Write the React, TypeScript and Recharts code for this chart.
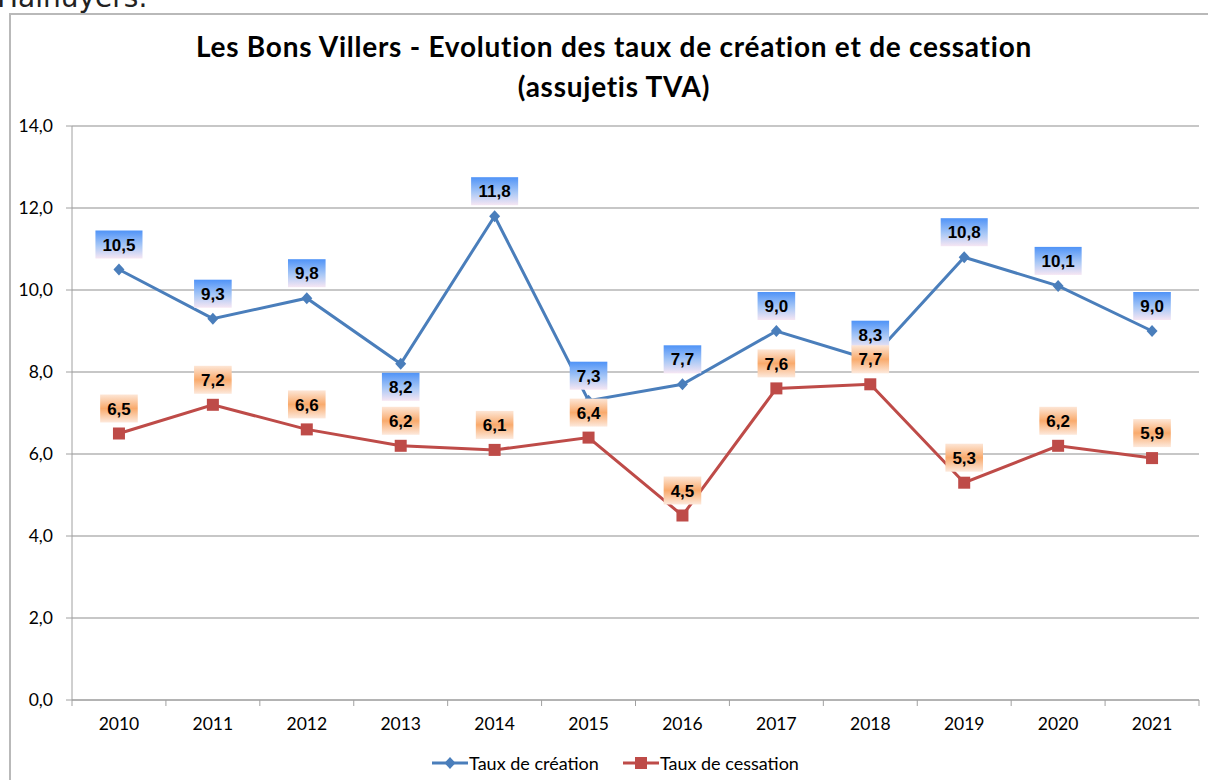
import React from 'react';
import { LineChart, Line, XAxis, YAxis, CartesianGrid, LabelList, Legend } from 'recharts';

const years = ['2010', '2011', '2012', '2013', '2014', '2015', '2016', '2017', '2018', '2019', '2020', '2021'];
const tauxCreation = [10.5, 9.3, 9.8, 8.2, 11.8, 7.3, 7.7, 9.0, 8.3, 10.8, 10.1, 9.0];
const tauxCessation = [6.5, 7.2, 6.6, 6.2, 6.1, 6.4, 4.5, 7.6, 7.7, 5.3, 6.2, 5.9];
const yTicks = [0, 2, 4, 6, 8, 10, 12, 14];
// labels that Excel put under the point instead of above
const creationLabelsBelow = ['2013'];

const data = years.map((year, i) => ({
  year,
  creation: tauxCreation[i],
  cessation: tauxCessation[i],
}));

const BLUE = '#4a7ebb';
const RED = '#be4b48';
const AXIS = '#a0a0a0';
const FONT = 'Lato, "Open Sans", sans-serif';
const W = 1208;
const H = 780;
const MARGIN = { top: 126, right: 9, left: 0, bottom: 20 };
const Y_AXIS_W = 72;
const PLOT_W = W - MARGIN.left - MARGIN.right - Y_AXIS_W;
const BAND = PLOT_W / years.length;

const fmt = (v: number) => v.toFixed(1).replace('.', ',');

const textWidth = (s: string) =>
  s.split('').reduce((acc, c) => acc + (c === ',' ? 4.7 : 9.45), 0);

const makeLabel = (gradId: string, isBelow: (i: number) => boolean) => (props: any) => {
  const { x, y, value, index } = props;
  const text = fmt(Number(value));
  const w = textWidth(text) + 14;
  const h = 28;
  const cy = isBelow(index) ? y + 23 : y - 25;
  return (
    <g>
      <rect x={x - w / 2} y={cy - h / 2} width={w} height={h} fill={`url(#${gradId})`} />
      <text
        x={x}
        y={cy}
        dy="0.36em"
        textAnchor="middle"
        fontFamily='"Liberation Sans", Arial, sans-serif'
        fontWeight="bold"
        fontSize={17}
        fill="#000"
      >
        {text}
      </text>
    </g>
  );
};

const Diamond = (props: any) => {
  const { cx, cy } = props;
  if (cx == null || cy == null) return null;
  return <polygon points={`${cx},${cy - 6} ${cx + 5.5},${cy} ${cx},${cy + 6} ${cx - 5.5},${cy}`} fill={BLUE} />;
};

const Square = (props: any) => {
  const { cx, cy } = props;
  if (cx == null || cy == null) return null;
  return <rect x={cx - 6} y={cy - 6} width={12} height={12} fill={RED} />;
};

const XTick = (props: any) => {
  const { x, y, payload, index } = props;
  return (
    <g>
      <line x1={x - BAND / 2} x2={x - BAND / 2} y1={y} y2={y + 6} stroke={AXIS} />
      {index === years.length - 1 && (
        <line x1={x + BAND / 2} x2={x + BAND / 2} y1={y} y2={y + 6} stroke={AXIS} />
      )}
      <text x={x} y={y + 24} dy="0.35em" textAnchor="middle" fontFamily={FONT} fontSize={17.5} fill="#000">
        {payload.value}
      </text>
    </g>
  );
};

const LegendIcon = ({ color, square }: { color: string; square: boolean }) => (
  <svg width={36} height={14} style={{ display: 'block' }}>
    <line x1={0} x2={36} y1={7} y2={7} stroke={color} strokeWidth={3} />
    {square ? (
      <rect x={12} y={1} width={12} height={12} fill={color} />
    ) : (
      <polygon points="18,1 23.5,7 18,13 12.5,7" fill={color} />
    )}
  </svg>
);

const renderLegend = () => (
  <div
    style={{
      display: 'flex',
      justifyContent: 'center',
      alignItems: 'center',
      height: 20,
      fontFamily: FONT,
      fontSize: 18,
      color: '#000',
      transform: 'translateX(16px)',
    }}
  >
    <div style={{ display: 'flex', alignItems: 'center', marginRight: 24 }}>
      <LegendIcon color={BLUE} square={false} />
      <span style={{ marginLeft: 1 }}>Taux de création</span>
    </div>
    <div style={{ display: 'flex', alignItems: 'center' }}>
      <LegendIcon color={RED} square />
      <span style={{ marginLeft: 1 }}>Taux de cessation</span>
    </div>
  </div>
);

export default function App() {
  return (
    <div style={{ position: 'fixed', left: 0, top: 0, width: W, height: H, overflow: 'hidden', background: '#fff' }}>
      <svg width={0} height={0} style={{ position: 'absolute' }}>
        <defs>
          <linearGradient id="gradBlue" x1="0" y1="0" x2="0" y2="1">
            <stop offset="0%" stopColor="#4f93f7" />
            <stop offset="55%" stopColor="#a9c8f6" />
            <stop offset="100%" stopColor="#f6e6f3" />
          </linearGradient>
          <linearGradient id="gradOrange" x1="0" y1="0" x2="0" y2="1">
            <stop offset="0%" stopColor="#fde6d6" />
            <stop offset="50%" stopColor="#f9aa6c" />
            <stop offset="100%" stopColor="#fde9dc" />
          </linearGradient>
        </defs>
      </svg>
      <div
        style={{
          position: 'absolute',
          left: -3,
          top: -19,
          fontFamily: '"DejaVu Sans", sans-serif',
          fontSize: 28,
          color: '#222',
          whiteSpace: 'nowrap',
        }}
      >
        Hainuyers.
      </div>
      <div
        style={{
          position: 'absolute',
          left: 9,
          top: 13,
          width: W,
          height: H,
          border: '2px solid #b9b9b9',
          boxSizing: 'border-box',
        }}
      />
      <div
        style={{
          position: 'absolute',
          left: 0,
          top: 26,
          width: 1228,
          textAlign: 'center',
          fontFamily: FONT,
          fontWeight: 'bold',
          fontSize: 28,
          letterSpacing: 0.75,
          lineHeight: '40px',
          color: '#000',
        }}
      >
        Les Bons Villers - Evolution des taux de création et de cessation
        <br />
        (assujetis TVA)
      </div>
      <div style={{ position: 'absolute', left: 0, top: 0 }}>
        <LineChart width={W} height={H} data={data} margin={MARGIN}>
          <CartesianGrid vertical={false} stroke="#b5b5b5" strokeWidth={1.3} />
          <XAxis
            dataKey="year"
            height={40}
            stroke={AXIS}
            tickLine={false}
            tickSize={0}
            tickMargin={0}
            interval={0}
            padding={{ left: BAND / 2, right: BAND / 2 }}
            tick={<XTick />}
          />
          <YAxis
            width={Y_AXIS_W}
            domain={[0, 14]}
            ticks={yTicks}
            stroke={AXIS}
            tickSize={6}
            tickMargin={13}
            tickFormatter={fmt}
            tick={{ fontFamily: FONT, fontSize: 17.5, fill: '#000' }}
          />
          <Legend content={renderLegend} verticalAlign="bottom" wrapperStyle={{ bottom: 7 }} />
          <Line
            type="linear"
            dataKey="creation"
            name="Taux de création"
            stroke={BLUE}
            strokeWidth={3}
            dot={<Diamond />}
            activeDot={false}
            isAnimationActive={false}
          >
            <LabelList
              dataKey="creation"
              content={makeLabel('gradBlue', (i) => creationLabelsBelow.includes(years[i]))}
            />
          </Line>
          <Line
            type="linear"
            dataKey="cessation"
            name="Taux de cessation"
            stroke={RED}
            strokeWidth={3}
            dot={<Square />}
            activeDot={false}
            isAnimationActive={false}
          >
            <LabelList dataKey="cessation" content={makeLabel('gradOrange', () => false)} />
          </Line>
        </LineChart>
      </div>
    </div>
  );
}
